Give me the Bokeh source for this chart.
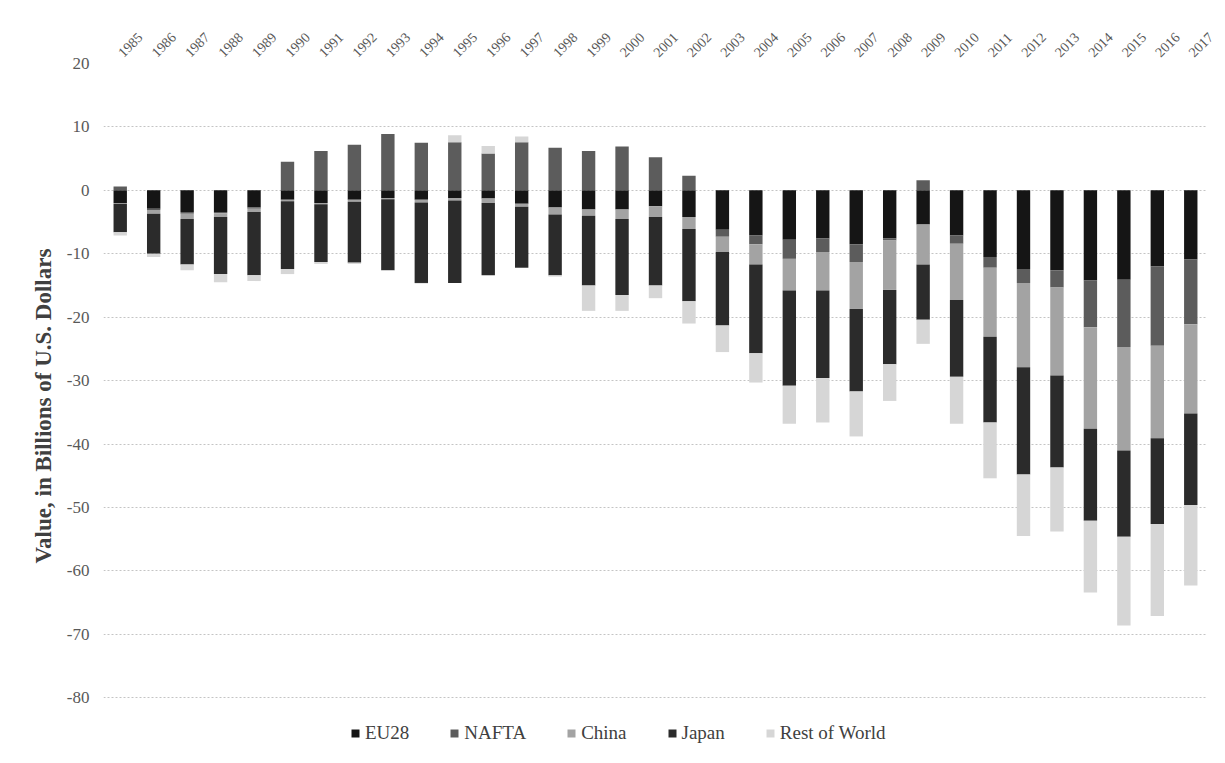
import math
from bokeh.plotting import figure
from bokeh.models import FactorRange, Range1d, FixedTicker, Legend, LegendItem
from bokeh.embed import file_html
from bokeh.resources import INLINE

years = [str(y) for y in range(1985, 2018)]

eu28 = [-2.0, -2.9, -3.4, -3.4, -2.7, -1.5, -2.0, -1.5, -1.2, -1.5, -1.2, -1.3, -2.1,
        -2.7, -3.0, -3.0, -2.5, -4.2, -6.2, -7.1, -7.8, -7.6, -8.5, -7.6, -5.4, -7.1,
        -10.5, -12.4, -12.6, -14.2, -14.1, -12.0, -10.9]
nafta = [0.6, -0.2, -0.3, -0.2, -0.2, 4.5, 6.2, 7.2, 8.9, 7.5, 7.6, 5.8, 7.6,
         6.7, 6.2, 6.9, 5.2, 2.3, -1.1, -1.4, -3.0, -2.1, -2.8, -0.3, 1.6, -1.3,
         -1.7, -2.2, -2.7, -7.4, -10.6, -12.5, -10.2]
china = [-0.1, -0.6, -0.8, -0.6, -0.5, -0.2, -0.2, -0.3, -0.2, -0.4, -0.4, -0.7, -0.5,
         -1.1, -1.0, -1.5, -1.7, -1.9, -2.4, -3.2, -5.0, -6.1, -7.4, -7.8, -6.3, -8.9,
         -10.9, -13.3, -13.9, -16.0, -16.3, -14.6, -14.1]
japan = [-4.5, -6.3, -7.2, -9.0, -10.0, -10.7, -9.1, -9.6, -11.2, -12.7, -13.0, -11.4, -9.6,
         -9.6, -11.0, -12.0, -10.8, -11.4, -11.6, -14.0, -15.0, -13.8, -13.0, -11.7, -8.7, -12.1,
         -13.5, -16.9, -14.5, -14.5, -13.6, -13.5, -14.4]
rest_of_world = [-0.5, -0.5, -0.9, -1.3, -0.9, -0.8, -0.3, -0.2, -0.1, -0.1, 1.1, 1.2, 0.9,
                 -0.2, -4.0, -2.5, -2.0, -3.5, -4.2, -4.6, -6.0, -7.0, -7.1, -5.8, -3.8, -7.4,
                 -8.8, -9.7, -10.1, -11.3, -14.0, -14.5, -12.7]

series_names = ["EU28", "NAFTA", "China", "Japan", "Rest of World"]
series_values = [eu28, nafta, china, japan, rest_of_world]
series_colors = ["#151515", "#5c5c5c", "#a3a3a3", "#2b2b2b", "#d6d6d6"]

y_ticks = [20, 10, 0, -10, -20, -30, -40, -50, -60, -70, -80]

FONT = "Liberation Serif"

p = figure(width=1217, height=755, output_backend="svg", toolbar_location=None,
           x_range=FactorRange(factors=years, range_padding=0),
           y_range=Range1d(-88, 20), x_axis_location="above",
           min_border_left=103, min_border_right=10, min_border_top=63, min_border_bottom=7)
p.outline_line_color = None
p.xgrid.grid_line_color = None
p.ygrid.grid_line_color = "#c4c4c4"
p.ygrid.grid_line_dash = "2 2"
p.ygrid.grid_line_width = 1

pos_base = [0.0] * len(years)
neg_base = [0.0] * len(years)
renderers = []
for name, vals, col in zip(series_names, series_values, series_colors):
    bottoms, tops = [], []
    for i, v in enumerate(vals):
        if v >= 0:
            bottoms.append(pos_base[i]); tops.append(pos_base[i] + v); pos_base[i] += v
        else:
            tops.append(neg_base[i]); bottoms.append(neg_base[i] + v); neg_base[i] += v
    r = p.vbar(x=years, bottom=bottoms, top=tops, width=0.4, fill_color=col, line_color=None)
    renderers.append((name, r))

p.yaxis.ticker = FixedTicker(ticks=y_ticks)
p.yaxis.major_label_overrides = {t: str(t) for t in y_ticks}
p.yaxis.axis_line_color = None
p.yaxis.major_tick_line_color = None
p.yaxis.minor_tick_line_color = None
p.yaxis.major_label_standoff = 8
p.yaxis.major_label_text_font = FONT
p.yaxis.major_label_text_font_size = "17px"
p.yaxis.major_label_text_color = "#595959"
p.yaxis.axis_label = "Value, in Billions of U.S. Dollars"
p.yaxis.axis_label_text_font = FONT
p.yaxis.axis_label_text_font_style = "bold"
p.yaxis.axis_label_text_font_size = "23px"
p.yaxis.axis_label_text_color = "#404040"
p.yaxis.axis_label_standoff = 8

p.xaxis.axis_line_color = None
p.xaxis.major_tick_line_color = None
p.xaxis.minor_tick_line_color = None
p.xaxis.major_label_orientation = math.pi / 4
p.xaxis.major_label_standoff = 3
p.xaxis.major_label_text_font = FONT
p.xaxis.major_label_text_font_size = "14px"
p.xaxis.major_label_text_color = "#595959"

legend = Legend(items=[LegendItem(label=n, renderers=[r]) for n, r in renderers],
                orientation="horizontal", location=(247, 4))
legend.border_line_color = None
legend.background_fill_alpha = 0
legend.padding = 0
legend.margin = 0
legend.spacing = 40
legend.glyph_width = 10
legend.glyph_height = 10
legend.label_standoff = 5
legend.label_text_font = FONT
legend.label_text_font_size = "19px"
legend.label_text_color = "#404040"
p.add_layout(legend, "center")

open("out.html", "w").write(file_html(p, INLINE))
